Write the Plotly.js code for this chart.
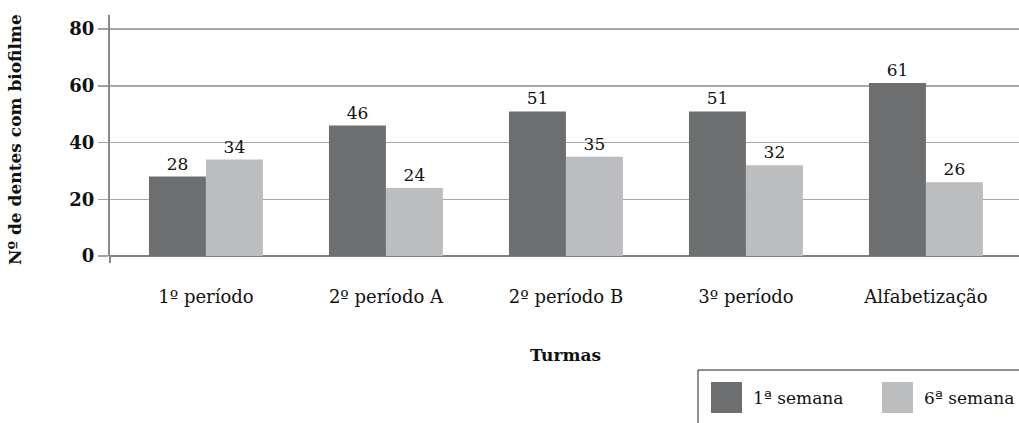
<!DOCTYPE html>
<html>
<head>
<meta charset="utf-8">
<script src="https://cdn.plot.ly/plotly-3.0.1.min.js"></script>
<style>html,body{margin:0;padding:0;background:#fff;}#chart{width:1019px;height:423px;}</style>
</head>
<body>
<div id="chart"></div>
<script>
const categories = ["1º período", "2º período A", "2º período B", "3º período", "Alfabetização"];
const seriesNames = ["1ª semana", "6ª semana"];
const semana1 = [28, 46, 51, 51, 61];
const semana6 = [34, 24, 35, 32, 26];
const yTicks = [0, 20, 40, 60, 80];

const colors = ["#6d6e70", "#bcbdbf"];
const FONT = "DejaVu Serif, Liberation Serif, serif";

// plot area geometry in pixels (for converting legend pixels to paper coords)
const L = 110, R = 0, T = 15, B = 167, W = 1019, H = 423;
const pw = W - L - R, ph = H - T - B;
const xp = px => (px - L) / pw;
const yp = py => (H - B - py) / ph;

const traces = [semana1, semana6].map((vals, i) => ({
  type: "bar",
  x: categories,
  y: vals,
  name: seriesNames[i],
  marker: {color: colors[i], line: {width: 0}},
  text: vals.map(String),
  textposition: "outside",
  textfont: {family: FONT, size: 17, color: "#111"},
  cliponaxis: false,
  showlegend: false,
  hoverinfo: "x+y+name"
}));

const shapes = [
  // y axis extension below zero
  {type: "line", xref: "paper", yref: "paper", x0: 0, x1: 0, y0: 0, y1: yp(263), line: {color: "#888", width: 2}},
  // legend frame (top and left borders; rest cut off)
  {type: "line", xref: "paper", yref: "paper", x0: xp(698), x1: xp(1025), y0: yp(370), y1: yp(370), line: {color: "#222", width: 1}},
  {type: "line", xref: "paper", yref: "paper", x0: xp(698), x1: xp(698), y0: yp(370), y1: yp(430), line: {color: "#222", width: 1}}
];
const legendX = [711, 882];
const annotations = [];
seriesNames.forEach((nm, i) => {
  shapes.push({type: "rect", xref: "paper", yref: "paper",
    x0: xp(legendX[i]), x1: xp(legendX[i] + 31), y0: yp(413), y1: yp(382),
    fillcolor: colors[i], line: {width: 0}});
  annotations.push({xref: "paper", yref: "paper", x: xp(legendX[i] + 40), y: yp(398),
    xanchor: "left", yanchor: "middle", showarrow: false, text: nm,
    font: {family: FONT, size: 17, color: "#111"}});
});
annotations.push({xref: "paper", yref: "paper", x: xp(565), y: yp(355), xanchor: "center", yanchor: "middle",
  showarrow: false, text: "<b>Turmas</b>", font: {family: FONT, size: 17, color: "#111"}});
annotations.push({xref: "paper", yref: "paper", x: xp(15), y: yp(140), xanchor: "center", yanchor: "middle",
  showarrow: false, textangle: -90, text: "<b>Nº de dentes com biofilme</b>", font: {family: FONT, size: 17, color: "#111"}});

const layout = {
  width: W, height: H,
  margin: {l: L, r: R, t: T, b: B, pad: 0},
  paper_bgcolor: "#fff", plot_bgcolor: "#fff",
  barmode: "group", bargap: 0.367, bargroupgap: 0,
  showlegend: false,
  xaxis: {
    type: "category", range: [-0.533, 4.517],
    showgrid: false, showline: false, zeroline: false,
    ticks: "outside", ticklen: 24, tickcolor: "rgba(0,0,0,0)",
    tickfont: {family: FONT, size: 18, color: "#111"},
    automargin: false
  },
  yaxis: {
    range: [0, 85], tickvals: yTicks, ticktext: yTicks.map(String),
    showgrid: true, gridcolor: "#a8a8a8", gridwidth: 1.5,
    zeroline: true, zerolinecolor: "#808080", zerolinewidth: 2,
    showline: true, linecolor: "#888", linewidth: 2,
    ticks: "outside", ticklen: 10, tickcolor: "#a0a0a0", tickwidth: 1.5,
    tickfont: {family: FONT, size: 18, color: "#111", weight: "bold"},
    automargin: false
  },
  shapes: shapes,
  annotations: annotations,
  font: {family: FONT}
};

Plotly.newPlot("chart", traces, layout, {staticPlot: true, displayModeBar: false});
</script>
</body>
</html>
